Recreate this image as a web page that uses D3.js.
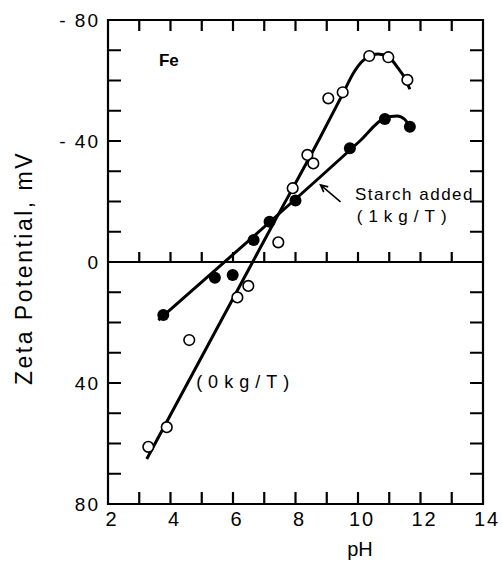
<!DOCTYPE html>
<html>
<head>
<meta charset="utf-8">
<script src="https://cdn.jsdelivr.net/npm/d3@7"></script>
<style>
  body { margin: 0; background: #fff; }
  svg { display: block; }
  text { font-family: "Liberation Sans", Arial, sans-serif; fill: #000; }
</style>
</head>
<body>
<div id="chart-area"></div>
<script>
// tick labels
var xTicks = [2, 3, 4, 5, 6, 7, 8, 9, 10, 11, 12, 13, 14];
var xLabels = [2, 4, 6, 8, 10, 12, 14];
var yTicks = [-80, -70, -60, -50, -40, -30, -20, -10, 0, 10, 20, 30, 40, 50, 60, 70, 80];
var yLabels = [-80, -40, 0, 40, 80];

// no starch (0 kg/T), open circles
var phNoStarch = [3.29, 3.88, 4.60, 6.14, 6.49, 7.45, 7.91, 8.38, 8.57, 9.05, 9.51, 10.36, 10.97, 11.58];
var zetaNoStarch = [61.1, 54.6, 25.8, 11.7, 7.9, -6.5, -24.4, -35.4, -32.6, -54.1, -56.1, -68.1, -67.7, -60.2];

// starch added (1 kg/T), filled circles
var phStarch = [3.77, 5.42, 5.99, 6.66, 7.17, 8.00, 9.74, 10.86, 11.66];
var zetaStarch = [17.5, 5.2, 4.3, -7.3, -13.3, -20.3, -37.6, -47.3, -44.7];

// hand drawn curves through the points
var fitPhNoStarch = [3.24, 7.18, 8.78, 9.51, 9.85, 10.12, 10.36, 10.64, 10.97, 11.29, 11.50, 11.66];
var fitZetaNoStarch = [65.1, -10.6, -41.0, -55.5, -62.4, -66.2, -68.1, -68.8, -67.8, -64.0, -60.8, -57.1];
var fitPhStarch = [3.61, 10.06, 10.86, 11.25, 11.50, 11.66];
var fitZetaStarch = [19.2, -40.0, -47.6, -48.3, -47.1, -44.6];

var margin = {top: 20, right: 19, bottom: 59, left: 108},
  width = 502 - margin.left - margin.right,
  height = 563 - margin.top - margin.bottom;

var svg = d3.select("#chart-area")
  .append("svg")
  .attr("width", width + margin.left + margin.right)
  .attr("height", height + margin.top + margin.bottom)
  .append("g")
  .attr("transform", "translate(" + margin.left + "," + margin.top + ")");

var x = d3.scaleLinear().domain([2, 14]).range([0, width]);
var y = d3.scaleLinear().domain([-80, 80]).range([0, height]);

// frame, zero line and all inward ticks as one path
var p = d3.path();
p.rect(0, 0, width, height);
p.moveTo(0, y(0)); p.lineTo(width, y(0));
xTicks.slice(1, -1).forEach(function(d) {
  p.moveTo(x(d), height); p.lineTo(x(d), height - 12);
  p.moveTo(x(d), 0); p.lineTo(x(d), 11);
  p.moveTo(x(d), y(0)); p.lineTo(x(d), y(0) - 10);
});
yTicks.slice(1, -1).forEach(function(d) {
  p.moveTo(0, y(d)); p.lineTo(13, y(d));
  p.moveTo(width, y(d)); p.lineTo(width - 13, y(d));
});
svg.append("path")
  .attr("d", p.toString())
  .attr("fill", "none")
  .attr("stroke", "#000")
  .attr("stroke-width", 2.2);

// tick labels
svg.selectAll("text.xlab")
  .data(xLabels)
  .enter()
  .append("text")
  .attr("class", "xlab")
  .attr("x", function(d) { return x(d) + 4; })
  .attr("y", height + 22)
  .attr("text-anchor", "middle")
  .style("font-size", "20px")
  .style("letter-spacing", "2px")
  .text(function(d) { return d; });

svg.selectAll("text.ylab")
  .data(yLabels)
  .enter()
  .append("text")
  .attr("class", "ylab")
  .attr("x", -8)
  .attr("y", function(d) { return y(d) + 7; })
  .attr("text-anchor", "end")
  .style("font-size", "19px")
  .style("letter-spacing", "2px")
  .text(function(d) { return d < 0 ? "- " + (-d) : d; });

// axis titles
svg.append("text")
  .attr("x", 252)
  .attr("y", height + 52)
  .attr("text-anchor", "middle")
  .style("font-size", "20px")
  .text("pH");

svg.append("text")
  .attr("transform", "translate(" + (-76) + "," + (y(0) + 6) + ") rotate(-90)")
  .attr("text-anchor", "middle")
  .style("font-size", "23px")
  .style("letter-spacing", "2.5px")
  .text("Zeta Potential, mV");

// fitted curves
var line = d3.line()
  .x(function(d) { return x(d[0]); })
  .y(function(d) { return y(d[1]); })
  .curve(d3.curveMonotoneX);

svg.append("path")
  .datum(d3.zip(fitPhNoStarch, fitZetaNoStarch))
  .attr("d", line)
  .attr("fill", "none")
  .attr("stroke", "#000")
  .attr("stroke-width", 3);

svg.append("path")
  .datum(d3.zip(fitPhStarch, fitZetaStarch))
  .attr("d", line)
  .attr("fill", "none")
  .attr("stroke", "#000")
  .attr("stroke-width", 3);

// points
svg.selectAll("circle.open")
  .data(d3.zip(phNoStarch, zetaNoStarch))
  .enter()
  .append("circle")
  .attr("class", "open")
  .attr("cx", function(d) { return x(d[0]); })
  .attr("cy", function(d) { return y(d[1]); })
  .attr("r", 5.3)
  .attr("fill", "#fff")
  .attr("stroke", "#000")
  .attr("stroke-width", 1.6);

svg.selectAll("circle.filled")
  .data(d3.zip(phStarch, zetaStarch))
  .enter()
  .append("circle")
  .attr("class", "filled")
  .attr("cx", function(d) { return x(d[0]); })
  .attr("cy", function(d) { return y(d[1]); })
  .attr("r", 6)
  .attr("fill", "#000");

// annotations
svg.append("text")
  .attr("x", x(3.63))
  .attr("y", y(-64.9))
  .style("font-size", "17px")
  .style("font-weight", "bold")
  .text("Fe");

svg.append("text")
  .attr("x", x(9.9))
  .attr("y", y(-20.5))
  .style("font-size", "17px")
  .style("letter-spacing", "1.5px")
  .text("Starch added");

svg.append("text")
  .attr("x", x(9.96))
  .attr("y", y(-13.3))
  .style("font-size", "17px")
  .style("letter-spacing", "6px")
  .text("(1kg/T)");

svg.append("text")
  .attr("x", x(4.82))
  .attr("y", y(41.8))
  .style("font-size", "18px")
  .style("letter-spacing", "6px")
  .text("(0kg/T)");

// arrow pointing at the starch line
var tip = [x(8.8), y(-25.5)], tail = [x(9.44), y(-19.9)];
var ang = Math.atan2(tail[1] - tip[1], tail[0] - tip[0]);
var head = [ang - 0.45, ang + 0.45].map(function(a) {
  return [tip[0] + 8 * Math.cos(a), tip[1] + 8 * Math.sin(a)];
});
svg.append("path")
  .attr("d", "M" + tail + "L" + tip + "M" + head[0] + "L" + tip + "L" + head[1])
  .attr("fill", "none")
  .attr("stroke", "#000")
  .attr("stroke-width", 1.6);
</script>
</body>
</html>
